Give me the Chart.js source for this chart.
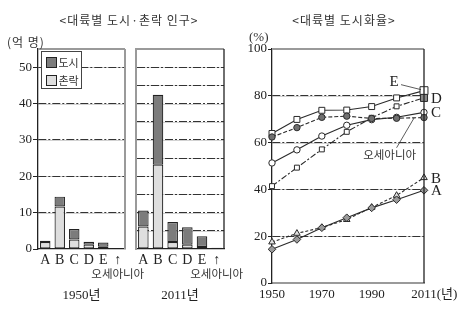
<!DOCTYPE html>
<html>
<head>
<meta charset="utf-8">
<script src="https://cdn.jsdelivr.net/npm/chart.js@4.4.1/dist/chart.umd.min.js"></script>
<style>
  body { margin: 0; background: #fff; width: 467px; height: 324px; overflow: hidden; position: relative; }
  canvas { position: absolute; left: 0; top: 0; }
  .t { position: absolute; white-space: nowrap; line-height: 13px; color: #333; font-family: "Noto Sans CJK KR", sans-serif; }
</style>
</head>
<body>
<canvas id="pop1950" width="467" height="324"></canvas>
<canvas id="pop2011" width="467" height="324"></canvas>
<canvas id="rate" width="467" height="324"></canvas>

<div class="t" style="left:129px;top:13px;transform:translateX(-50%);font-size:12px;letter-spacing:1px">&lt;대륙별 도시·촌락 인구&gt;</div>
<div class="t" style="left:344px;top:13px;transform:translateX(-50%);font-size:12px;letter-spacing:1px">&lt;대륙별 도시화율&gt;</div>
<div class="t" style="left:7px;top:35px;font-size:12px;letter-spacing:1px">(억 명)</div>
<div class="t" style="left:249px;top:30px;font-size:13px;font-family:'Liberation Serif',serif">(%)</div>

<script>
Chart.defaults.font.family = "'Liberation Serif', 'Noto Sans CJK KR', serif";
Chart.defaults.font.size = 13;
Chart.defaults.color = "#222";
Chart.defaults.animation = false;
Chart.defaults.responsive = false;
Chart.defaults.plugins.legend.display = false;
Chart.defaults.plugins.tooltip.enabled = false;

// population (억 명)
const regions = ["A", "B", "C", "D", "E", "오세아니아"];
const rural1950 = [1.9, 11.7, 2.6, 1.2, 0.6, 0.05];
const urban1950 = [0.4, 2.7, 2.9, 0.8, 1.2, 0.08];
const rural2011 = [6.2, 23.2, 1.9, 1.2, 0.55, 0.11];
const urban2011 = [4.4, 19.2, 5.5, 4.8, 2.95, 0.26];
const popTicks = [0, 10, 20, 30, 40, 50];

// urbanization rate (%)
const years = [1950, 1960, 1970, 1980, 1990, 2000, 2011];
const rateA = [14.4, 18.6, 23.6, 27.9, 32.1, 35.6, 39.6];
const rateB = [17.5, 21.2, 23.7, 27.1, 32.3, 37.4, 45.0];
const rateC = [51.3, 56.9, 62.8, 67.4, 69.8, 70.8, 72.9];
const rateD = [41.4, 49.3, 57.1, 64.6, 70.6, 75.5, 79.1];
const rateE = [63.9, 69.9, 73.8, 73.9, 75.4, 79.1, 82.2];
const rateOceania = [62.4, 66.4, 70.8, 71.3, 70.3, 70.4, 70.7];
const pctTicks = [0, 20, 40, 60, 80, 100];
const yearTicks = [1950, 1970, 1990, 2011];

const DASH = [8, 2, 2, 2];
const KR = "'Noto Sans CJK KR', sans-serif";
const SERIF = "'Liberation Serif', 'Noto Sans CJK KR', serif";
const RURAL = "#dedede";
const URBAN = "#7c7c7c";

// faint solid line under each dash-dot grid line
const underGrid = {
  id: "underGrid",
  beforeDraw(chart) {
    const { ctx, chartArea: a, scales: { y } } = chart;
    ctx.save();
    ctx.strokeStyle = "#d2d2d2";
    ctx.lineWidth = 1;
    y.ticks.forEach((t) => {
      if (t.value <= y.min || t.value >= y.max) return;
      const py = Math.round(y.getPixelForValue(t.value)) + 0.5;
      ctx.beginPath();
      ctx.moveTo(a.left, py);
      ctx.lineTo(a.right, py);
      ctx.stroke();
    });
    ctx.restore();
  },
};

function frame(sides) {
  return {
    id: "frame",
    afterDraw(chart) {
      const { ctx, chartArea: a } = chart;
      const lines = {
        top: [a.left, a.top, a.right, a.top],
        right: [a.right, a.top, a.right, a.bottom],
        left: [a.left, a.top, a.left, a.bottom],
      };
      ctx.save();
      Object.keys(sides).forEach((k) => {
        const p = lines[k];
        ctx.strokeStyle = sides[k].c;
        ctx.lineWidth = sides[k].w;
        ctx.beginPath();
        ctx.moveTo(p[0], p[1]);
        ctx.lineTo(p[2], p[3]);
        ctx.stroke();
      });
      ctx.restore();
    },
  };
}

// "오세아니아" under the arrow tick
const oceaniaLabel = {
  id: "oceaniaLabel",
  afterDraw(chart) {
    const { ctx, scales: { x } } = chart;
    const px = x.getPixelForValue(regions.length - 1);
    ctx.save();
    ctx.font = "11.5px " + KR;
    ctx.fillStyle = "#333";
    ctx.textAlign = "center";
    ctx.textBaseline = "middle";
    ctx.fillText(regions[regions.length - 1], px, x.top + 25);
    ctx.restore();
  },
};

// boxed legend in the top-left corner of the 1950 panel
const boxLegend = {
  id: "boxLegend",
  afterDraw(chart) {
    const { ctx, chartArea: a } = chart;
    const bx = a.left + 3.5, by = a.top + 2.5;
    ctx.save();
    ctx.fillStyle = "#fff";
    ctx.strokeStyle = "#444";
    ctx.lineWidth = 1;
    ctx.fillRect(bx, by, 40, 37);
    ctx.strokeRect(bx, by, 40, 37);
    ctx.font = "11px " + KR;
    ctx.textBaseline = "middle";
    chart.data.datasets.slice().reverse().forEach((ds, i) => {
      const sy = by + 6 + i * 18;
      ctx.fillStyle = ds.backgroundColor;
      ctx.strokeStyle = "#222";
      ctx.fillRect(bx + 5, sy, 10, 10);
      ctx.strokeRect(bx + 5, sy, 10, 10);
      ctx.fillStyle = "#333";
      ctx.fillText(ds.label, bx + 17, sy + 5.5);
    });
    ctx.restore();
  },
};

function popChart(id, rural, urban, title, pad, axisWidth, sides, extra) {
  return new Chart(document.getElementById(id), {
    type: "bar",
    data: {
      labels: regions,
      datasets: [
        { label: "촌락", data: rural, backgroundColor: RURAL },
        { label: "도시", data: urban, backgroundColor: URBAN },
      ],
    },
    options: {
      layout: { padding: { left: pad[0], right: pad[1], top: 49, bottom: 15 } },
      datasets: {
        bar: {
          borderColor: "#222",
          borderWidth: 1.2,
          borderSkipped: false,
          categoryPercentage: 1,
          barPercentage: 0.72,
        },
      },
      scales: {
        x: {
          stacked: true,
          grid: { display: false, drawTicks: false },
          border: { color: "#222", width: 1.3 },
          ticks: {
            padding: 3,
            autoSkip: false,
            maxRotation: 0,
            font: { size: 14 },
            callback: (v, i) => (i === regions.length - 1 ? "↑" : regions[i]),
          },
          title: { display: true, text: title, font: { size: 13 }, padding: { top: 0, bottom: 6 } },
          afterFit: (s) => { s.height = 60; },
        },
        y: {
          stacked: true,
          min: 0,
          max: 55,
          ticks: {
            stepSize: 5,
            padding: 1,
            display: axisWidth > 0,
            callback: (v) => (popTicks.includes(v) ? v : ""),
          },
          grid: {
            color: (c) => (c.tick && c.tick.value > 0 && c.tick.value < 55 ? "#333" : "transparent"),
            tickColor: (c) => (c.tick && popTicks.includes(c.tick.value) ? "#222" : "transparent"),
            tickLength: 5,
            drawTicks: axisWidth > 0,
          },
          border: { color: sides.leftColor, width: sides.leftWidth, dash: DASH },
          afterFit: (s) => { s.width = axisWidth; },
        },
      },
    },
    plugins: [underGrid, frame(sides.frame), oceaniaLabel].concat(extra),
  });
}

popChart("pop1950", rural1950, urban1950, "1950년", [8, 342], 30, {
  leftColor: "#222", leftWidth: 1.3,
  frame: { top: { c: "#9a9a9a", w: 2 }, right: { c: "#9a9a9a", w: 2 } },
}, [boxLegend]);
popChart("pop2011", rural2011, urban2011, "2011년", [136, 243], 0, {
  leftColor: "#9a9a9a", leftWidth: 2,
  frame: { top: { c: "#9a9a9a", w: 2 }, right: { c: "#222", w: 1.3 } },
}, []);

function rateSet(label, values, opts) {
  return Object.assign(
    {
      label,
      data: years.map((y, i) => ({ x: y, y: values[i] })),
      borderColor: "#2a2a2a",
      borderWidth: 1.1,
      pointBorderColor: "#2a2a2a",
      pointBorderWidth: 1,
      pointBackgroundColor: "#fff",
      clip: false,
    },
    opts
  );
}

const lastOnly = (normal, last) => years.map((_, i) => (i === years.length - 1 ? last : normal));

const rateLabels = {
  id: "rateLabels",
  afterDatasetsDraw(chart) {
    const { ctx, scales: { x, y } } = chart;
    const n = years.length - 1;
    const xe = x.getPixelForValue(years[n]);
    ctx.save();
    ctx.fillStyle = "#222";
    ctx.strokeStyle = "#333";
    ctx.lineWidth = 0.8;
    ctx.font = "15px " + SERIF;
    ctx.textBaseline = "middle";
    ctx.textAlign = "left";
    [["D", rateD], ["C", rateC], ["B", rateB], ["A", rateA]].forEach(([t, arr]) => {
      ctx.fillText(t, xe + 7, y.getPixelForValue(arr[n]) + 1);
    });
    const ye = y.getPixelForValue(rateE[n]);
    ctx.textAlign = "center";
    ctx.fillText("E", xe - 30, ye - 9);
    ctx.beginPath();
    ctx.moveTo(xe - 23, ye - 6);
    ctx.lineTo(xe - 3, ye - 1);
    ctx.stroke();

    ctx.font = "11.5px " + KR;
    ctx.fillStyle = "#333";
    ctx.fillText("오세아니아", x.getPixelForValue(1997.2), y.getPixelForValue(54.8));
    ctx.beginPath();
    ctx.moveTo(x.getPixelForValue(2000), y.getPixelForValue(57.8));
    ctx.lineTo(x.getPixelForValue(2007), y.getPixelForValue(70.5));
    ctx.stroke();

    ctx.font = "13px " + SERIF;
    ctx.fillStyle = "#222";
    ctx.textAlign = "left";
    ctx.fillText("(년)", xe + ctx.measureText(String(years[n])).width / 2, x.top + 12);
    ctx.restore();
  },
};

new Chart(document.getElementById("rate"), {
  type: "line",
  data: {
    datasets: [
      rateSet("A", rateA, { pointStyle: "rectRot", pointRadius: 3.8, pointBackgroundColor: "#9a9a9a" }),
      rateSet("B", rateB, { pointStyle: "triangle", pointRadius: 3.8, pointBackgroundColor: "#e2e2e2", borderDash: [3, 2] }),
      rateSet("오세아니아", rateOceania, { pointStyle: "circle", pointRadius: 3.2, pointBackgroundColor: "#707070", borderDash: [4, 2] }),
      rateSet("C", rateC, { pointStyle: "circle", pointRadius: 3.2 }),
      rateSet("D", rateD, {
        pointStyle: "rect",
        pointRadius: lastOnly(3.5, 5),
        pointBackgroundColor: lastOnly("#fff", "#8a8a8a"),
        borderDash: [6, 2, 2, 2],
      }),
      rateSet("E", rateE, { pointStyle: "rect", pointRadius: lastOnly(4.2, 5.6) }),
    ],
  },
  options: {
    layout: { padding: { left: 242, right: 43, top: 49, bottom: 11 } },
    scales: {
      x: {
        type: "linear",
        min: years[0],
        max: years[years.length - 1],
        afterBuildTicks: (s) => { s.ticks = yearTicks.map((v) => ({ value: v })); },
        grid: { display: false, drawTicks: false },
        border: { color: "#9a9a9a", width: 2 },
        ticks: { padding: 4, autoSkip: false, maxRotation: 0, callback: (v) => String(v) },
        afterFit: (s) => { s.height = 30; },
      },
      y: {
        min: 0,
        max: 100,
        afterBuildTicks: (s) => { s.ticks = pctTicks.map((v) => ({ value: v })); },
        ticks: { padding: 1, callback: (v) => String(v) },
        grid: {
          color: (c) => (c.tick && c.tick.value > 0 && c.tick.value < 100 ? "#333" : "transparent"),
          tickColor: "#222",
          tickLength: 4,
        },
        border: { color: "#222", width: 1.3, dash: DASH },
        afterFit: (s) => { s.width = 30; },
      },
    },
  },
  plugins: [underGrid, frame({ top: { c: "#9a9a9a", w: 2 }, right: { c: "#222", w: 1.3 } }), rateLabels],
});
</script>
</body>
</html>
